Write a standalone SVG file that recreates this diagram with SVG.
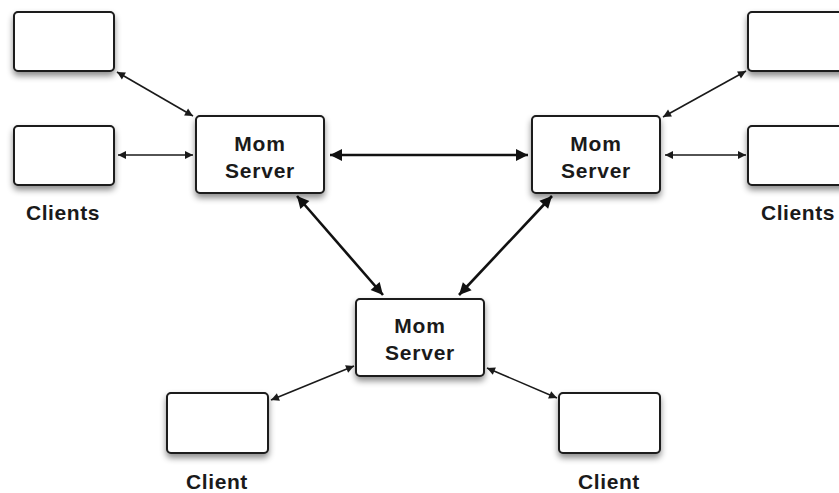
<svg xmlns="http://www.w3.org/2000/svg" width="839" height="493" viewBox="0 0 839 493">
<style>
.box{fill:#fff;stroke:#1a1a1a;stroke-width:2;filter:url(#sh)}
.t{font-family:"Liberation Sans",Arial,sans-serif;font-weight:bold;font-size:21px;letter-spacing:0.8px;fill:#1a1a1a;text-anchor:middle}
.lbl{font-family:"Liberation Sans",Arial,sans-serif;font-weight:bold;font-size:21px;letter-spacing:0.6px;fill:#1a1a1a;text-anchor:middle}
.thin{stroke:#1a1a1a;stroke-width:1.6;fill:none;marker-start:url(#as);marker-end:url(#ae)}
.thick{stroke:#111;stroke-width:2.6;fill:none;marker-start:url(#bs);marker-end:url(#be)}
</style>
<defs>
<filter id="sh" x="-20%" y="-20%" width="140%" height="160%">
<feDropShadow dx="0" dy="4" stdDeviation="3" flood-color="#000" flood-opacity="0.45"/>
</filter>
<marker id="ae" viewBox="0 0 10 10" refX="10" refY="5" markerWidth="10" markerHeight="8" markerUnits="userSpaceOnUse" orient="auto" overflow="visible">
<path d="M0,0 L10,5 L0,10 Z" fill="#1a1a1a"/>
</marker>
<marker id="as" viewBox="0 0 10 10" refX="0" refY="5" markerWidth="10" markerHeight="8" markerUnits="userSpaceOnUse" orient="auto" overflow="visible">
<path d="M10,0 L0,5 L10,10 Z" fill="#1a1a1a"/>
</marker>
<marker id="be" viewBox="0 0 10 10" refX="10" refY="5" markerWidth="14" markerHeight="12" markerUnits="userSpaceOnUse" orient="auto" overflow="visible">
<path d="M0,0 L10,5 L0,10 Z" fill="#111"/>
</marker>
<marker id="bs" viewBox="0 0 10 10" refX="0" refY="5" markerWidth="14" markerHeight="12" markerUnits="userSpaceOnUse" orient="auto" overflow="visible">
<path d="M10,0 L0,5 L10,10 Z" fill="#111"/>
</marker>
</defs>
<rect width="839" height="493" fill="#fff"/>
<g id="connectors">
<line class="thin" x1="117" y1="72" x2="193" y2="116"/>
<line class="thin" x1="118" y1="155" x2="193" y2="155"/>
<line class="thin" x1="663" y1="117" x2="746" y2="71"/>
<line class="thin" x1="665" y1="155" x2="746" y2="155"/>
<line class="thin" x1="354" y1="366" x2="271" y2="400"/>
<line class="thin" x1="487" y1="368" x2="557" y2="398"/>
<line class="thick" x1="330" y1="155" x2="528" y2="155"/>
<line class="thick" x1="297" y1="196" x2="383" y2="295"/>
<line class="thick" x1="552" y1="196" x2="459" y2="295"/>
</g>
<g id="client-tl"><rect class="box" x="14" y="12" width="100" height="59" rx="4"/></g>
<g id="client-ml"><rect class="box" x="14" y="126" width="100" height="59" rx="4"/></g>
<g id="label-clients-left"><text class="lbl" x="63" y="220">Clients</text></g>
<g id="client-tr"><rect class="box" x="748" y="12" width="100" height="59" rx="4"/></g>
<g id="client-mr"><rect class="box" x="748" y="126" width="100" height="59" rx="4"/></g>
<g id="label-clients-right"><text class="lbl" x="798" y="220">Clients</text></g>
<g id="server-left"><rect class="box" x="196" y="116" width="128" height="77" rx="4"/>
<text class="t" x="260" y="151">Mom</text><text class="t" x="260" y="178">Server</text></g>
<g id="server-right"><rect class="box" x="532" y="116" width="128" height="77" rx="4"/>
<text class="t" x="596" y="151">Mom</text><text class="t" x="596" y="178">Server</text></g>
<g id="server-bottom"><rect class="box" x="356" y="299" width="128" height="77" rx="4"/>
<text class="t" x="420" y="333">Mom</text><text class="t" x="420" y="360">Server</text></g>
<g id="client-bl"><rect class="box" x="167" y="393" width="101" height="60" rx="4"/>
<text class="lbl" x="217" y="489">Client</text></g>
<g id="client-br"><rect class="box" x="559" y="393" width="101" height="60" rx="4"/>
<text class="lbl" x="609" y="489">Client</text></g>
</svg>
